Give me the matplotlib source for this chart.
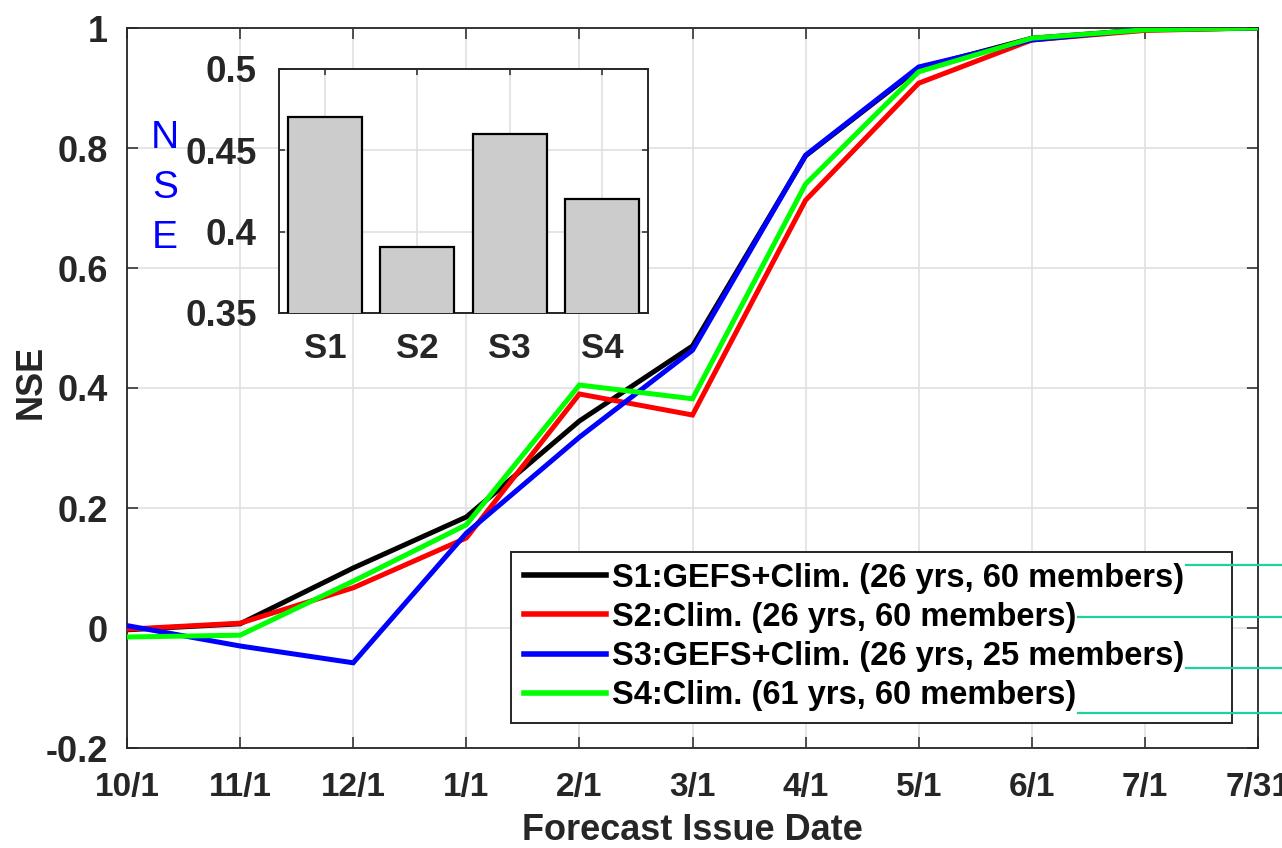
import numpy as np
import matplotlib
matplotlib.use("Agg")
import matplotlib.pyplot as plt
from matplotlib.lines import Line2D
from matplotlib.patches import Rectangle

plt.rcParams['font.family'] = ['Liberation Sans', 'DejaVu Sans']

dates = ['10/1', '11/1', '12/1', '1/1', '2/1', '3/1', '4/1', '5/1', '6/1', '7/1', '7/31']
s1 = [-0.003, 0.007, 0.100, 0.185, 0.345, 0.470, 0.787, 0.933, 0.983, 0.997, 1.000]
s2 = [-0.002, 0.008, 0.067, 0.150, 0.390, 0.355, 0.713, 0.908, 0.980, 0.996, 1.000]
s3 = [0.004, -0.030, -0.058, 0.158, 0.318, 0.463, 0.788, 0.935, 0.980, 0.998, 1.000]
s4 = [-0.015, -0.012, 0.078, 0.172, 0.405, 0.382, 0.740, 0.927, 0.983, 0.997, 1.000]
series = [s1, s2, s3, s4]
labels = ['S1:GEFS+Clim. (26 yrs, 60 members)',
          'S2:Clim. (26 yrs, 60 members)',
          'S3:GEFS+Clim. (26 yrs, 25 members)',
          'S4:Clim. (61 yrs, 60 members)']
colors = ['#000000', '#ff0000', '#0000ff', '#00ff00']

bar_names = ['S1', 'S2', 'S3', 'S4']
bar_vals = [0.4705, 0.3905, 0.460, 0.420]

yticks = [-0.2, 0, 0.2, 0.4, 0.6, 0.8, 1]
ytick_labels = ['-0.2', '0', '0.2', '0.4', '0.6', '0.8', '1']
in_yticks = [0.35, 0.4, 0.45, 0.5]
in_ytick_labels = ['0.35', '0.4', '0.45', '0.5']

W, H = 1282, 848
fig = plt.figure(figsize=(W / 100, H / 100), dpi=100)
ax = fig.add_axes([127 / W, 1 - 748 / H, (1258 - 127) / W, (748 - 28) / H])

spine_c = '#262626'
grid_c = '#e0e0e0'
x = np.arange(len(dates))
for s, c, l in zip(series, colors, labels):
    ax.plot(x, s, color=c, lw=3.6, label=l, solid_joinstyle='miter', zorder=3)

ax.set_xlim(0, len(dates) - 1)
ax.set_ylim(-0.2, 1)
ax.set_xticks(x)
ax.set_xticklabels(dates)
ax.set_yticks(yticks)
ax.set_yticklabels(ytick_labels)
ax.grid(True, color=grid_c, lw=1.2, zorder=0)
ax.set_axisbelow(True)
ax.tick_params(direction='in', length=8, width=1.1, top=True, right=True,
               colors=spine_c)
ax.tick_params(axis='x', pad=17, labelsize=24)
ax.tick_params(axis='y', pad=14, labelsize=26)
for t in ax.get_xticklabels() + ax.get_yticklabels():
    t.set_fontweight('bold')
for sp in ax.spines.values():
    sp.set_color(spine_c)
    sp.set_linewidth(1.3)
ax.set_xlabel('Forecast Issue Date', fontsize=26, color=spine_c, fontweight='bold', va='center')
ax.set_ylabel('NSE', fontsize=26, color=spine_c, fontweight='bold', va='center')
ax.xaxis.set_label_coords(0.5, (748 - 830) / 720)
ax.yaxis.set_label_coords((31 - 127) / 1131, (748 - 382) / 720)

# legend frame (drawn separately to match the wide box)
frame = Rectangle((511 / W, 1 - 723 / H), (1232 - 511) / W, (723 - 552) / H,
                  transform=fig.transFigure, facecolor='white', edgecolor=spine_c,
                  lw=1.4, zorder=4.5, clip_on=False)
ax.add_patch(frame)
leg = ax.legend(loc='center left',
                bbox_to_anchor=((524 - 127) / 1131, (748 - 637) / 720),
                prop={'size': 23.5, 'weight': 'bold'}, frameon=False,
                handlelength=2.5, handletextpad=0.2, labelspacing=0.25,
                borderpad=0, borderaxespad=0)
leg.set_zorder(5)
for ln in leg.get_lines():
    ln.set_linewidth(4)

# inset bar chart
axi = fig.add_axes([279 / W, 1 - 313 / H, (648 - 279) / W, (313 - 69) / H])
bx = np.arange(1, len(bar_names) + 1)
axi.bar(bx, bar_vals, width=0.8, color='#cccccc', edgecolor='k', lw=1.6, zorder=3)
axi.set_xlim(0.5, len(bar_names) + 0.5)
axi.set_ylim(0.35, 0.5)
axi.set_xticks(bx)
axi.set_xticklabels(bar_names)
axi.set_yticks(in_yticks)
axi.set_yticklabels(in_ytick_labels)
axi.grid(True, color=grid_c, lw=1.2, zorder=0)
axi.set_axisbelow(True)
axi.tick_params(direction='in', length=4, width=1.1, top=True, right=True,
                colors=spine_c)
axi.tick_params(axis='x', pad=14, labelsize=25)
axi.tick_params(axis='y', pad=16, labelsize=26.5)
for t in axi.get_xticklabels() + axi.get_yticklabels():
    t.set_fontweight('bold')
for sp in axi.spines.values():
    sp.set_color(spine_c)
    sp.set_linewidth(1.4)
axi.set_ylabel('N\nS\nE', rotation=0, color='#0000ff', fontsize=28, linespacing=1.5,
               ha='center', va='center')
axi.yaxis.set_label_coords((165 - 279) / 369, (313 - 188) / 244)

# stray teal lines to the right of the legend text
fig.canvas.draw()
renderer = fig.canvas.get_renderer()
teal_y = [565, 617, 668, 713]
for t, yy in zip(leg.get_texts(), teal_y):
    bb = t.get_window_extent(renderer)
    fig.add_artist(Line2D([bb.x1 / W + 0.001, 1.0], [1 - yy / H, 1 - yy / H],
                          transform=fig.transFigure, color='#1ed2a0', lw=1.6,
                          zorder=10))

fig.savefig('out.png', dpi=100)
